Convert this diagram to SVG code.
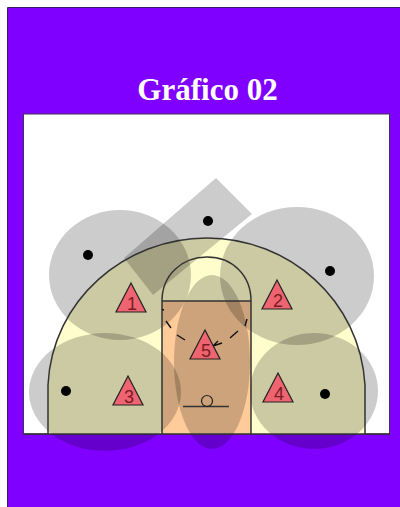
<svg xmlns="http://www.w3.org/2000/svg" width="400" height="507" viewBox="0 0 400 507">
<style>
.z{fill:#000;fill-opacity:.2}
.l{fill:none;stroke:#333;stroke-width:1.5}
.d{fill:none;stroke:#111;stroke-width:1.4}
.p{fill:#000}
.t{fill:#EE6470;stroke:#222;stroke-width:1.2}
.n{font-family:"Liberation Sans",Arial,sans-serif;font-size:18px;fill:#7a1c24;text-anchor:middle}
</style>
<rect x="0" y="0" width="400" height="507" fill="#fff"/>
<rect x="8" y="8" width="392" height="499" fill="#7F00FF"/>
<path d="M7.500 507V7.500H400" fill="none" stroke="#3a1a66" stroke-width="1"/>
<text x="207.500" y="100" font-family="'Liberation Serif','Times New Roman',serif" font-weight="bold" font-size="31" fill="#fff" text-anchor="middle">Gráfico 02</text>
<rect x="23.500" y="114" width="366" height="320" fill="#fff" stroke="#40305a" stroke-width="1"/>
<g id="court-fill">
<path d="M48 434V385C52 300 125 238 207 238C289 238 360 300 365 385V434Z" fill="#FFFDCC"/>
<rect x="162" y="301" width="89" height="133" fill="#FFCC99"/>
<path d="M162 301C162 275 182 257 207 257C232 257 251 275 251 301Z" fill="#FFFDCC"/>
</g>
<g id="zones">
<path class="z" d="M216 178L252 214L153 295L124 258Z"/>
<ellipse class="z" cx="120" cy="275" rx="71" ry="65"/>
<ellipse class="z" cx="297" cy="276" rx="77" ry="69"/>
<ellipse class="z" cx="105" cy="392" rx="76" ry="59"/>
<ellipse class="z" cx="314" cy="391" rx="64" ry="58"/>
<ellipse class="z" cx="212" cy="362" rx="38" ry="87"/>
</g>
<g id="court-lines">
<path class="l" d="M48 434V385C52 300 125 238 207 238C289 238 360 300 365 385V434"/>
<path class="l" d="M162 434V301H251V434M162 301C162 275 182 257 207 257C232 257 251 275 251 301"/>
<path d="M23 434H390" fill="none" stroke="#333" stroke-width="1.500"/>
<path class="l" d="M183 406.500H229"/>
<circle cx="207" cy="401" r="5.500" fill="none" stroke="#222" stroke-width="1.200"/>
</g>
<g id="connectors">
<path class="d" d="M162 309.500L164 310M166 321L171 328M177 335L185 340"/>
<path class="d" d="M247 319L245 326M238 331L230 338M222 343L213 346L218 341"/>
</g>
<g id="dots">
<circle class="p" cx="88" cy="255" r="5"/>
<circle class="p" cx="208" cy="221" r="5"/>
<circle class="p" cx="330" cy="271" r="5"/>
<circle class="p" cx="66" cy="391" r="5"/>
<circle class="p" cx="325" cy="394" r="5"/>
</g>
<g id="player-1"><path class="t" d="M131 283L146 312H116Z"/><text class="n" x="132" y="310">1</text></g>
<g id="player-2"><path class="t" d="M277 280L292 309H262Z"/><text class="n" x="278" y="307">2</text></g>
<g id="player-3"><path class="t" d="M128 376L143 405H113Z"/><text class="n" x="129" y="403">3</text></g>
<g id="player-4"><path class="t" d="M278 373L293 402H263Z"/><text class="n" x="279" y="400">4</text></g>
<g id="player-5"><path class="t" d="M205 330L220 359H190Z"/><text class="n" x="206" y="357">5</text></g>
</svg>
